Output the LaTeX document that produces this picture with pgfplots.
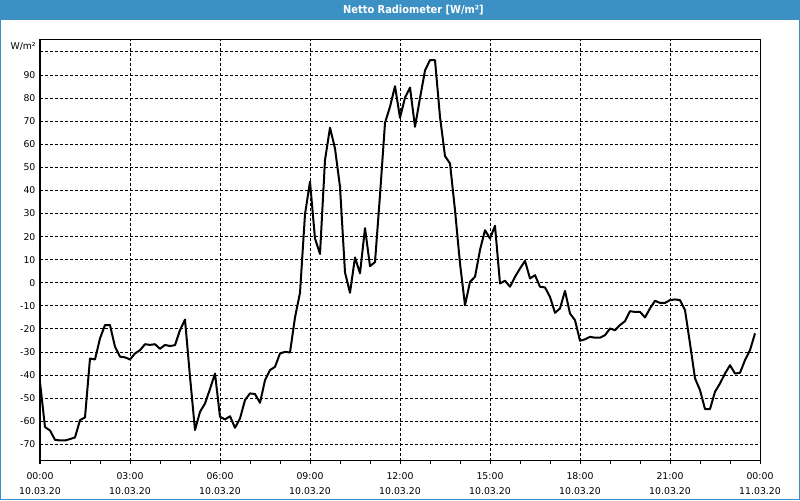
\documentclass[border=0pt]{standalone}
\usepackage{pgfplots}
\pgfplotsset{compat=1.18}
\usepackage{fontspec}
\setmainfont{DejaVu Sans}
\newfontfamily\condfont{DejaVu Sans Condensed}
\definecolor{titleblue}{HTML}{3C91C4}
\pgfplotstableread{
t v
0 -43
10 -62.5
20 -64
30 -68
40 -68.3
50 -68.3
60 -67.7
70 -67
80 -59.5
90 -58.3
100 -32.8
110 -33.2
120 -24.1
130 -18.3
140 -18.3
150 -27.7
160 -32
170 -32.3
180 -33.2
190 -30.6
200 -29.2
210 -26.6
220 -26.9
230 -26.6
240 -28.6
250 -26.9
260 -27.4
270 -27
280 -20.5
290 -15.9
300 -40.7
310 -63.8
320 -55.9
330 -52.3
340 -46
350 -39.3
360 -58
370 -59.2
380 -57.8
390 -62.8
400 -58.8
410 -50.8
420 -47.9
430 -48.2
440 -52
450 -42.2
460 -37.8
470 -36.4
480 -30.6
490 -29.9
500 -30.2
510 -15
520 -4.3
530 29.7
540 43.8
550 19.2
560 12.5
570 53.2
580 67.2
590 58.2
600 41.6
610 4.5
620 -4.3
630 11
640 4.1
650 23.7
660 7.2
670 9
680 38
690 69.3
700 76.3
710 85.2
720 71.5
730 80.2
740 84.6
750 67.6
760 80
770 92
780 96.5
790 96.5
800 71.9
810 54.9
820 51.7
830 31.5
840 8.4
850 -9.7
860 0.4
870 2.6
880 14.2
890 22.8
900 19.2
910 24.7
920 -0.3
930 0.9
940 -1.7
950 2.6
960 6.2
970 9.5
980 1.9
990 3.3
1000 -1.7
1010 -2
1020 -6.1
1030 -13
1040 -11.1
1050 -3.5
1060 -13.3
1070 -16.2
1080 -25.1
1090 -24.5
1100 -23.4
1110 -23.8
1120 -23.8
1130 -22.7
1140 -19.8
1150 -20.5
1160 -18.3
1170 -16.6
1180 -12.3
1190 -12.6
1200 -12.6
1210 -15
1220 -11.1
1230 -7.8
1240 -8.7
1250 -8.7
1260 -7.5
1270 -7.2
1280 -7.5
1290 -11.8
1300 -26.3
1310 -41.4
1320 -46.5
1330 -54.7
1340 -54.7
1350 -47.2
1360 -43.6
1370 -39.3
1380 -35.7
1390 -39.3
1400 -39
1410 -33.5
1420 -29.2
1430 -21.9
}\radtable
\begin{document}
\begin{tikzpicture}
\fill[white] (0pt,0pt) rectangle (600pt,375pt);
\fill[titleblue] (0pt,360pt) rectangle (600pt,375pt);
\draw[titleblue, line width=0.75pt] (0.375pt,0.375pt) rectangle (599.625pt,374.625pt);
\node[text=white, font=\condfont\fontsize{8.2}{9}\selectfont\bfseries] at (310.1pt,367.6pt) {Netto Radiometer [W/m²]};
\node[anchor=east, font=\fontsize{7}{8}\selectfont, inner sep=0pt] at (27pt,340.5pt) {W/m²};
\begin{axis}[
  at={(30pt,29.25pt)}, anchor=south west,
  width=540pt, height=315.75pt, scale only axis,
  xmin=0, xmax=1440, ymin=-77.2, ymax=105.2,
  xtick={0,180,...,1440},
  minor xtick={60,120,240,300,420,480,600,660,780,840,960,1020,1140,1200,1320,1380},
  xticklabels={{00:00\\10.03.20},{03:00\\10.03.20},{06:00\\10.03.20},{09:00\\10.03.20},{12:00\\10.03.20},{15:00\\10.03.20},{18:00\\10.03.20},{21:00\\10.03.20},{00:00\\11.03.20}},
  ytick={-70,-60,-50,-40,-30,-20,-10,0,10,20,30,40,50,60,70,80,90,100},
  yticklabels={-70,-60,-50,-40,-30,-20,-10,0,10,20,30,40,50,60,70,80,90,{}},
  xmajorgrids, ymajorgrids,
  grid style={black, line width=0.75pt, dash pattern=on 2.25pt off 1.5pt},
  axis line style={black, line width=0.75pt},
  tick align=outside, xtick pos=bottom,
  major tick length=2.25pt, minor tick length=2.25pt,
  every tick/.style={black, line width=0.75pt},
  ytick style={draw=none},
  ytick pos=left,
  xticklabel style={font=\fontsize{7}{11.25}\selectfont, align=center, inner sep=0pt, yshift=-6pt},
  yticklabel style={font=\fontsize{7}{8}\selectfont, inner sep=0pt, xshift=-1pt},
  axis background/.style={fill=white},
  clip=true,
]
\addplot[black, line width=1.5pt, line join=round, mark=none] table[x=t,y=v] {\radtable};
\end{axis}
\end{tikzpicture}
\end{document}
